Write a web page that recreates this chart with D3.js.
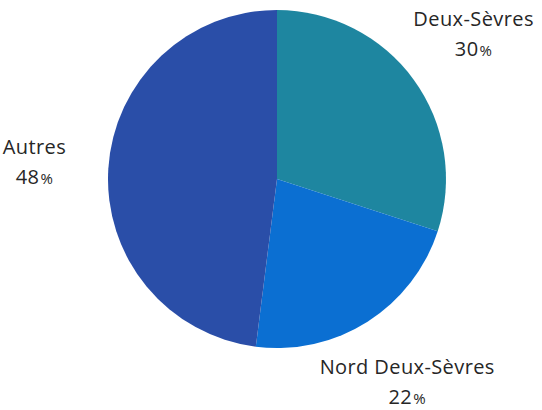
<!DOCTYPE html>
<html>
<head>
<meta charset="utf-8">
<script src="https://cdn.jsdelivr.net/npm/d3@7"></script>
<style>
  html, body { margin: 0; padding: 0; background: #fff; }
  svg { display: block; }
</style>
</head>
<body>
<svg id="chart" width="542" height="410"></svg>
<script>
const categories = ["Deux-Sèvres", "Nord Deux-Sèvres", "Autres"];
const values = [30, 22, 48];
const colors = ["#1e86a0", "#0b6fd2", "#2a4ea8"];

const width = 542, height = 410;
const cx = 277, cy = 179, radius = 169;
const labelRadius = 243;

const svg = d3.select("#chart");
const g = svg.append("g").attr("transform", `translate(${cx},${cy})`);

const data = categories.map((c, i) => ({ name: c, value: values[i], color: colors[i] }));

const pie = d3.pie().sort(null).value(d => d.value);
const arc = d3.arc().innerRadius(0).outerRadius(radius);
const labelArc = d3.arc().innerRadius(labelRadius).outerRadius(labelRadius);

const arcs = pie(data);

g.selectAll("path")
  .data(arcs)
  .enter()
  .append("path")
  .attr("d", arc)
  .attr("fill", d => d.data.color);

// labels sit outside the pie, name on top, percent below
const labels = g.selectAll("text.label")
  .data(arcs)
  .enter()
  .append("text")
  .attr("class", "label")
  .attr("transform", d => `translate(${labelArc.centroid(d)})`)
  .attr("text-anchor", "middle")
  .attr("font-family", "'Open Sans', 'Noto Sans', sans-serif")
  .attr("font-size", 20)
  .attr("letter-spacing", 0.4)
  .attr("fill", "#262626");

labels.append("tspan")
  .attr("x", 0)
  .attr("y", -10)
  .text(d => d.data.name);

const pct = labels.append("tspan")
  .attr("x", 0)
  .attr("y", 20);

pct.append("tspan").text(d => d.data.value);
pct.append("tspan").attr("font-size", 15).attr("dx", 1).text("%");
</script>
</body>
</html>
